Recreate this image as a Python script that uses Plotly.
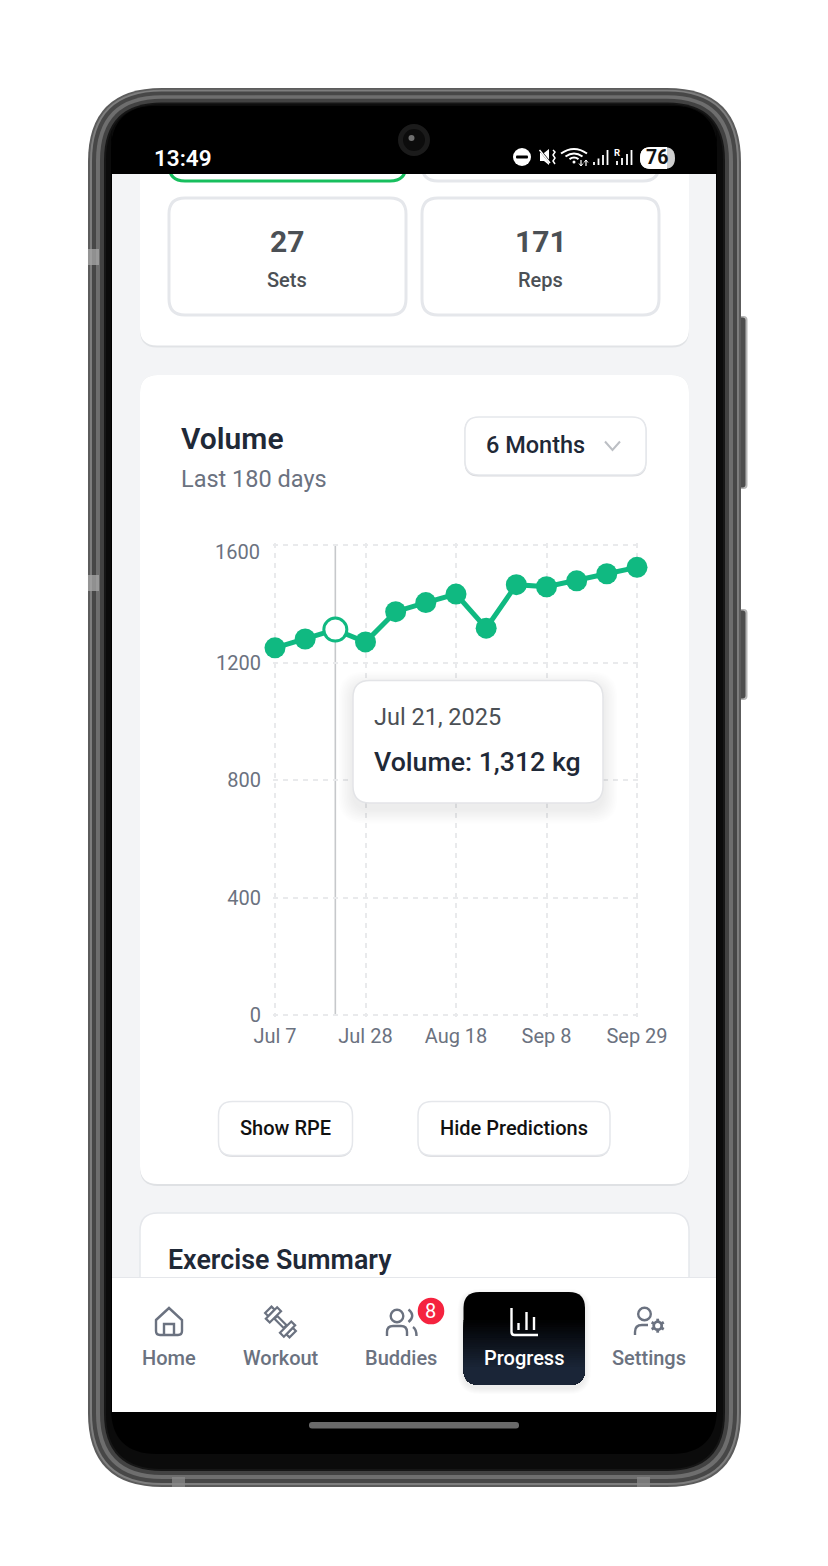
import plotly.graph_objects as go

# ---------- chart data ----------
dates = ["2025-07-07", "2025-07-14", "2025-07-21", "2025-07-28", "2025-08-04", "2025-08-11", "2025-08-18",
         "2025-08-25", "2025-09-01", "2025-09-08", "2025-09-15", "2025-09-22", "2025-09-29"]
volume = [1250, 1280, 1312, 1270, 1373, 1404, 1433, 1317, 1465, 1458, 1478, 1502, 1524]
active_date = "2025-07-21"
x_tick_vals = ["2025-07-07", "2025-07-28", "2025-08-18", "2025-09-08", "2025-09-29"]
x_tick_text = ["Jul 7", "Jul 28", "Aug 18", "Sep 8", "Sep 29"]
y_tick_vals = [0, 400, 800, 1200, 1600]
y_tick_text = ["0", "400", "800", "1200", ""]

W, H = 828, 1566
FONT = "Roboto"
GREEN = "#10b981"
GREY = "#6b7280"
DARK = "#1f2937"
BORDER = "#e5e7eb"

shapes_list = []
annos = []


def X(x):
    return round(x / W, 5)


def Y(y):
    return round(1 - y / H, 5)


def pt(x, y):
    return f"{X(x)},{Y(y)}"


def rr_path(x0, y0, x1, y1, r):
    return (f"M{pt(x0 + r, y0)} L{pt(x1 - r, y0)} Q{pt(x1, y0)} {pt(x1, y0 + r)} L{pt(x1, y1 - r)} "
            f"Q{pt(x1, y1)} {pt(x1 - r, y1)} L{pt(x0 + r, y1)} Q{pt(x0, y1)} {pt(x0, y1 - r)} "
            f"L{pt(x0, y0 + r)} Q{pt(x0, y0)} {pt(x0 + r, y0)} Z")


def add_path(path, fill=None, line=None, lw=0, layer="below", opacity=1):
    d = dict(type="path", xref="paper", yref="paper", path=path, layer=layer, opacity=opacity,
             line=dict(color=line or "rgba(0,0,0,0)", width=lw))
    if fill:
        d["fillcolor"] = fill
    else:
        d["fillcolor"] = "rgba(0,0,0,0)"
    shapes_list.append(d)


def rrect(x0, y0, x1, y1, r, fill=None, line=None, lw=0, layer="below", opacity=1):
    add_path(rr_path(x0, y0, x1, y1, r), fill, line, lw, layer, opacity)


def circle(cx, cy, r, fill=None, line=None, lw=0, layer="below"):
    shapes_list.append(dict(type="circle", xref="paper", yref="paper", x0=X(cx - r), x1=X(cx + r),
                            y0=Y(cy + r), y1=Y(cy - r), layer=layer, fillcolor=fill or "rgba(0,0,0,0)",
                            line=dict(color=line or "rgba(0,0,0,0)", width=lw)))


def poly(points, close=False):
    s = "M" + " L".join(pt(a, b) for a, b in points)
    return s + (" Z" if close else "")


def rot_rect(cx, cy, along, across, size_a, size_b):
    # rectangle on the 45 degree axis of the dumbbell icon
    k = 0.7071
    c = (cx + along * k - across * k, cy + along * k + across * k)
    res = []
    for sa, sb in [(-1, -1), (1, -1), (1, 1), (-1, 1)]:
        a, b = sa * size_a / 2, sb * size_b / 2
        res.append((c[0] + a * k - b * k, c[1] + a * k + b * k))
    return poly(res, True)


def text(x, y, s, size, color, weight=400, anchor="left", yref="paper", font=FONT):
    annos.append(dict(x=X(x), y=Y(y), xref="paper", yref=yref, text=s, showarrow=False, xanchor=anchor,
                      yanchor="middle", borderpad=0, font=dict(family=font, size=size, color=color, weight=weight)))


# ---------- phone hardware ----------
for y0, y1 in [(316, 489), (609, 700)]:
    rrect(735, y0, 747.5, y1, 4, fill="#b5b5b5")
    rrect(735, y0 + 1.5, 745.5, y1 - 1.5, 3, fill="#4e4e4e")
for x0, col, r in [(88, "#5c5c5c", 74), (90, "#7e7e7e", 72), (92, "#474747", 70), (96, "#6e6e6e", 66),
                   (100, "#424242", 62), (104, "#161616", 58), (106, "#0b0b0b", 56)]:
    d = x0 - 88
    rrect(x0, 88 + d * 0.9, 741 - d, 1487 - d, r, fill=col)
for y0, y1 in [(249, 265), (575, 591)]:
    rrect(88, y0, 99, y1, 0, fill="#a8a8a8", opacity=0.75)
for x0 in (172, 637):
    rrect(x0, 1477, x0 + 13, 1487, 0, fill="#8a8a8a", opacity=0.75)
rrect(111, 106, 717, 1454, 46, fill="#000000")

# ---------- screen ----------
rrect(112, 174, 716, 1412, 0, fill="#f3f4f6")

# first card with the stat tiles
rrect(140, 120, 689, 347.5, 17, fill="#e1e3e6")
rrect(140, 120, 689, 345.5, 17, fill="#ffffff")
rrect(169, 120, 406, 181, 16, fill="#ffffff", line="#18bf5e", lw=3)
rrect(422, 120, 659, 181, 16, fill="#ffffff", line=BORDER, lw=3)
rrect(169, 198, 406, 315, 16, fill="#ffffff", line=BORDER, lw=3)
rrect(422, 198, 659, 315, 16, fill="#ffffff", line=BORDER, lw=3)
text(287, 242, "27", 30, "#4b5055", 700, "center")
text(287, 280, "Sets", 20, "#4b5055", 500, "center")
text(540.5, 242, "171", 30, "#4b5055", 700, "center")
text(540.5, 280, "Reps", 20, "#4b5055", 500, "center")

# chart card
rrect(140, 375, 689, 1186, 18, fill="#dfe1e4")
rrect(140, 375, 689, 1184, 18, fill="#ffffff")
text(180, 439, "Volume", 30, DARK, 600)
text(180, 479.5, "Last 180 days", 23.5, GREY, 400)
rrect(464.5, 417, 646.5, 476.5, 14, fill="#d9dadd")
rrect(465, 417, 646, 475, 14, fill="#ffffff", line=BORDER, lw=1.5)
text(485.5, 445.5, "6 Months", 23.5, DARK, 500)
add_path(poly([(605, 441.5), (612.5, 450), (620, 441.5)]), line="#bcbfc4", lw=2)

# buttons below the chart
for x0, x1, label in [(218.5, 352.5, "Show RPE"), (418, 610, "Hide Predictions")]:
    rrect(x0, 1102, x1, 1157, 14, fill="#dcdde0")
    rrect(x0, 1101.5, x1, 1155.5, 14, fill="#ffffff", line=BORDER, lw=1.5)
    text((x0 + x1) / 2, 1127.5, label, 20, "#111111", 500, "center")

# third card, cut by navigation
rrect(140, 1213, 689, 1400, 18, fill="#ffffff", line=BORDER, lw=1.5)
text(167, 1260, "Exercise Summary", 26.8, DARK, 600)

# status bar
rrect(111, 106, 717, 174, 46, fill="#000000")
rrect(112, 150, 716, 174, 0, fill="#000000")
circle(414, 140, 16, fill="#1b1b1b")
circle(414, 140, 11, fill="#0c0c0c")
circle(411.5, 138, 3, fill="#6f6f6f")
text(152.5, 158, "13:49", 22.5, "#ffffff", 600)
circle(522, 157, 9, fill="#ffffff")
rrect(516, 155.5, 528, 158.5, 1, fill="#000000")
# mute icon
add_path(poly([(540, 153), (544, 153), (549, 149), (549, 165), (544, 161), (540, 161)], True), fill="#ffffff")
add_path(poly([(539, 149), (552, 165)]), line="#000000", lw=2)
add_path(poly([(539.5, 150), (550, 163)]), line="#ffffff", lw=1.5)
add_path(poly([(553, 150), (555, 152), (553, 155), (555, 158), (553, 161), (555, 164)]), line="#ffffff", lw=1.5)
# wifi icon
for r, lw in [(13, 2), (8.5, 2), (4.5, 2)]:
    add_path(f"M{pt(574 - r, 162 - r * .65)} Q{pt(574, 162 - r * 1.35)} {pt(574 + r, 162 - r * .65)}", line="#ffffff", lw=lw)
circle(574, 162, 1.5, fill="#ffffff")
add_path(poly([(581, 160), (581, 166)]), line="#ffffff", lw=1.2)
add_path(poly([(586, 160), (586, 166)]), line="#ffffff", lw=1.2)
add_path(poly([(579, 163.5), (581, 166), (583, 163.5)]), line="#ffffff", lw=1)
add_path(poly([(584, 162.5), (586, 160), (588, 162.5)]), line="#ffffff", lw=1)
# cell signal icons
for x, top in [(594, 162), (598.5, 158.5), (603, 155), (607.5, 150)]:
    add_path(poly([(x, top), (x, 165)]), line="#ffffff", lw=1.8)
for x, top in [(617, 161), (622, 158), (627, 154), (631.5, 150)]:
    add_path(poly([(x, top), (x, 165)]), line="#ffffff", lw=1.8)
text(617.5, 153, "R", 9.5, "#ffffff", 700, "center")
# battery pill
rrect(640, 147, 675, 169, 11, fill="#cfcfcf")
rrect(640, 147, 667, 169, 11, fill="#ffffff")
rrect(655, 147, 667, 169, 0, fill="#ffffff")
text(657.5, 157.5, "76", 19.5, "#111111", 700, "center")

# bottom navigation
rrect(112, 1277, 716, 1412, 0, fill="#ffffff")
rrect(112, 1277, 716, 1278, 0, fill=BORDER)
rrect(309, 1422, 519, 1428.5, 3, fill="#6a6a6a")
for x, label in [(169, "Home"), (280.5, "Workout"), (401, "Buddies"), (649, "Settings")]:
    text(x, 1358, label, 20, GREY, 500, "center")

# home icon
add_path(poly([(156, 1320), (169, 1308), (182, 1320), (182, 1331)]) + f" Q{pt(182, 1335)} {pt(178, 1335)} L{pt(160, 1335)} Q{pt(156, 1335)} {pt(156, 1331)} Z",
         line=GREY, lw=2.4)
add_path(poly([(164, 1335), (164, 1324), (174, 1324), (174, 1335)]), line=GREY, lw=2.4)
# dumbbell icon
cx, cy = 280.5, 1322
add_path(rot_rect(cx, cy, 0, 0, 13, 4), line=GREY, lw=2.2, fill="#ffffff")
for sign in (-1, 1):
    add_path(rot_rect(cx, cy, sign * 15, 0, 4.5, 9), line=GREY, lw=2.2, fill="#ffffff")
    add_path(rot_rect(cx, cy, sign * 10, 0, 5.5, 16), line=GREY, lw=2.2, fill="#ffffff")
# buddies icon
circle(397, 1316, 6.3, line=GREY, lw=2.4)
add_path(f"M{pt(387, 1336)} L{pt(387, 1332)} Q{pt(387, 1326)} {pt(393, 1326)} L{pt(401, 1326)} Q{pt(407, 1326)} {pt(407, 1332)} L{pt(407, 1336)}", line=GREY, lw=2.4)
add_path(f"M{pt(408.5, 1309.5)} Q{pt(416, 1315.5)} {pt(408.5, 1322)}", line=GREY, lw=2.4)
add_path(f"M{pt(413, 1327)} Q{pt(416.5, 1329.5)} {pt(416.5, 1336)}", line=GREY, lw=2.4)
# badge
circle(431, 1311, 13.3, fill="#f5233f")
text(431, 1311.5, "8", 20, "#ffffff", 400, "center")
# settings icon
circle(644.5, 1314, 6.3, line=GREY, lw=2.4)
add_path(f"M{pt(635, 1335)} L{pt(635, 1332)} Q{pt(635, 1325)} {pt(642, 1325)} L{pt(648, 1325)}", line=GREY, lw=2.4)
circle(657.7, 1325.7, 4, line=GREY, lw=2.8)
k = 0.866
for dx, dy in [(0, 1), (k, .5), (k, -.5)]:
    add_path(poly([(657.7 - dx * 7, 1325.7 - dy * 7), (657.7 - dx * 4.5, 1325.7 - dy * 4.5)]), line=GREY, lw=2.8)
    add_path(poly([(657.7 + dx * 4.5, 1325.7 + dy * 4.5), (657.7 + dx * 7, 1325.7 + dy * 7)]), line=GREY, lw=2.8)

# progress tab
for i in range(6, 0, -1):
    rrect(463.5 - i, 1292 - i + 3, 585 + i, 1385 + i + 3, 16 + i, fill="#000000", opacity=0.012)
rrect(463.5, 1292, 585, 1385, 16, fill="#000000")
x0, x1, bot, r = 463.5, 585, 1385, 16
steps = 22
for i in range(steps):
    yy = 1320 + i * (bot - r - 1320) / steps
    t = (i + 1) / steps
    col = f"rgb({round(26 * t)},{round(37 * t)},{round(55 * t)})"
    add_path(f"M{pt(x0, yy)} L{pt(x1, yy)} L{pt(x1, bot - r)} Q{pt(x1, bot)} {pt(x1 - r, bot)} L{pt(x0 + r, bot)} Q{pt(x0, bot)} {pt(x0, bot - r)} Z", fill=col)
add_path(f"M{pt(511.5, 1308)} L{pt(511.5, 1332)} Q{pt(511.5, 1335)} {pt(514.5, 1335)} L{pt(538, 1335)}", line="#ffffff", lw=2.4)
for xb, top in [(518.5, 1323), (526.5, 1312), (534, 1317)]:
    add_path(poly([(xb, top), (xb, 1330)]), line="#ffffff", lw=2.4)
text(524.5, 1358, "Progress", 20, "#ffffff", 500, "center")

# ---------- tooltip (above the plot) ----------
for i in range(9, 0, -1):
    rrect(353 - i * 1.6, 680 + 6 - i * 1.6, 603 + i * 1.6, 803 + 6 + i * 1.6, 17 + i, fill="#000000", layer="above", opacity=0.006)
rrect(353, 680.5, 603, 803, 17, fill="#ffffff", line="#e3e4e7", lw=1.5, layer="above")
text(373, 717.5, "Jul 21, 2025", 23.5, "#4b5055", 400)
text(373, 762, "Volume: 1,312 kg", 26.7, DARK, 500)

# 1600 label: nudged below its tick, as in the source chart
annos.append(dict(x=X(261.5), y=1600, xref="paper", yref="y", text="1600", showarrow=False, xanchor="right",
                  yanchor="middle", yshift=-7, borderpad=0, font=dict(family=FONT, size=20, color=GREY)))

# ---------- figure ----------
sizes = [23 if d == active_date else 21 for d in dates]
fills = ["#ffffff" if d == active_date else GREEN for d in dates]
lws = [3 if d == active_date else 0 for d in dates]

shapes_list.append(dict(type="line", xref="x", yref="y", x0=active_date, x1=active_date, y0=0, y1=1600,
                        layer="below", line=dict(color="#c6c8cb", width=1.6)))

fig = go.Figure(go.Scatter(
    x=dates, y=volume, mode="lines+markers", cliponaxis=False,
    line=dict(color=GREEN, width=5),
    marker=dict(size=sizes, color=fills, line=dict(color=GREEN, width=lws), opacity=1),
    hovertemplate="%{x|%b %d, %Y}<br>Volume: %{y:,} kg<extra></extra>",
))
# the axes run 2 px past the outer ticks so that the edge gridlines are kept
fig.update_layout(
    width=W, height=H, margin=dict(l=0, r=0, t=0, b=0, pad=0, autoexpand=False),
    paper_bgcolor="#ffffff", plot_bgcolor="rgba(0,0,0,0)", showlegend=False,
    shapes=shapes_list, annotations=annos,
    xaxis=dict(domain=[273 / W, 639 / W], type="date", range=["2025-07-06 12:52", "2025-09-29 11:08"], tickmode="array",
               tickvals=x_tick_vals, ticktext=x_tick_text, showgrid=True, gridcolor="#e9eaec", griddash="5px,5px",
               gridwidth=1.5, zeroline=False, showline=False, ticks="outside", ticklen=1,
               tickcolor="rgba(0,0,0,0)", tickfont=dict(family=FONT, size=20, color=GREY), tickangle=0),
    yaxis=dict(domain=[1 - 1017 / H, 1 - 543 / H], range=[-6.81, 1606.81], tickmode="array", tickvals=y_tick_vals,
               ticktext=y_tick_text, showgrid=True, gridcolor="#e9eaec", griddash="5px,5px", gridwidth=1.5,
               zeroline=False, showline=False, ticks="outside", ticklen=7, tickcolor="rgba(0,0,0,0)",
               tickfont=dict(family=FONT, size=20, color=GREY)),
)
fig.write_html("out.html", config=dict(displayModeBar=False),
               post_script="document.body.style.margin='0';document.body.style.overflow='hidden';")
